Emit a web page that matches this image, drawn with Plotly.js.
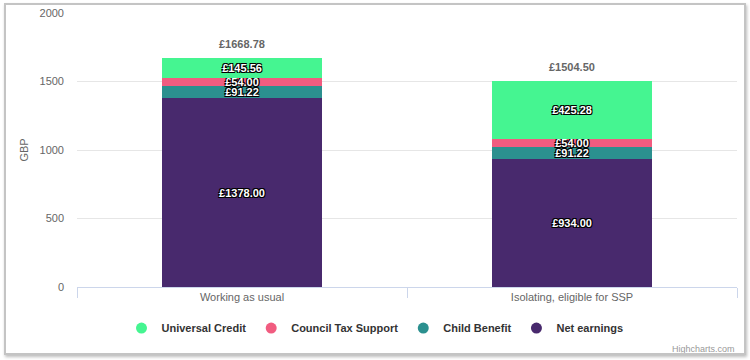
<!DOCTYPE html>
<html>
<head>
<meta charset="utf-8">
<script src="https://cdn.plot.ly/plotly-3.0.1.min.js"></script>
<style>
  html, body { margin: 0; padding: 0; background: #ffffff; }
  #chart { position: absolute; left: 0; top: 0; width: 750px; height: 360px; }
  #frame { position: absolute; left: 4px; top: 3px; width: 738px; height: 348px;
           border: 2px solid #c4c4c4; box-shadow: 1px 2px 3px #bdbdbd; pointer-events: none; }
</style>
</head>
<body>
<div id="chart"></div>
<div id="frame"></div>
<script>
const categories = ["Working as usual", "Isolating, eligible for SSP"];
const netEarnings = [1378.00, 934.00];
const childBenefit = [91.22, 91.22];
const councilTax = [54.00, 54.00];
const universalCredit = [145.56, 425.28];
const seriesNames = ["Net earnings", "Child Benefit", "Council Tax Support", "Universal Credit"];
const seriesValues = [netEarnings, childBenefit, councilTax, universalCredit];
const seriesColors = ["#48296d", "#2b908f", "#f15c80", "#45f591"];
const yTicks = [0, 500, 1000, 1500, 2000];

const FONT = "Liberation Sans, Arial, sans-serif";
const fmt = v => "£" + v.toFixed(2);

const traces = [];
seriesValues.forEach((vals, i) => {
  traces.push({
    type: "bar",
    name: seriesNames[i],
    x: categories,
    y: vals,
    text: vals.map(fmt),
    textposition: "inside",
    insidetextanchor: "middle",
    textangle: 0,
    constraintext: "none",
    cliponaxis: false,
    textfont: { family: FONT, size: 11, color: "#ffffff", weight: "bold",
      shadow: "-1px -1px 0 #000, 1px -1px 0 #000, -1px 1px 0 #000, 1px 1px 0 #000" },
    marker: { color: seriesColors[i], line: { width: 0 } },
    showlegend: false,
    hoverinfo: "skip"
  });
});
// legend entries with circle symbols
seriesValues.forEach((vals, i) => {
  traces.push({
    type: "scatter",
    mode: "markers",
    name: seriesNames[i],
    x: [null],
    y: [null],
    marker: { color: seriesColors[i], size: 11, symbol: "circle" },
    showlegend: true,
    hoverinfo: "skip"
  });
});

const totals = categories.map((c, k) => seriesValues.reduce((s, arr) => s + arr[k], 0));
const annotations = categories.map((c, k) => ({
  x: c, y: totals[k], xref: "x", yref: "y",
  text: fmt(totals[k]), showarrow: false, yanchor: "bottom", yshift: 6,
  font: { family: FONT, size: 11, color: "#666666", weight: "bold" }
}));
annotations.push({
  xref: "paper", yref: "paper", x: 1.0, y: -0.225, xanchor: "right", yanchor: "middle",
  text: "Highcharts.com", showarrow: false,
  font: { family: FONT, size: 9, color: "#999999" }
});

const layout = {
  width: 750, height: 360,
  margin: { l: 77, r: 13, t: 13, b: 73 },
  paper_bgcolor: "rgba(0,0,0,0)",
  plot_bgcolor: "#ffffff",
  barmode: "stack",
  bargap: 0.515,
  font: { family: FONT, size: 11, color: "#666666" },
  xaxis: {
    type: "category",
    showline: true, linecolor: "#ccd6eb", linewidth: 1,
    ticks: "outside", tickson: "boundaries", ticklen: 10, tickcolor: "#ccd6eb",
    tickfont: { family: FONT, size: 11, color: "#666666" },
    showgrid: false, zeroline: false, fixedrange: true
  },
  yaxis: {
    range: [0, 2000],
    tickvals: yTicks,
    ticktext: yTicks.map(String),
    showgrid: true, gridcolor: "#e6e6e6", gridwidth: 1,
    zeroline: false, showline: false,
    ticks: "", ticklabelstandoff: 12,
    tickfont: { family: FONT, size: 11, color: "#666666" },
    title: { text: "GBP", standoff: 8, font: { family: FONT, size: 11, color: "#666666" } },
    fixedrange: true
  },
  legend: {
    orientation: "h", x: 0.4515, xanchor: "center", y: -0.15, yanchor: "middle",
    traceorder: "reversed",
    itemwidth: 30,
    font: { family: FONT, size: 11, color: "#333333", weight: "bold" },
    itemclick: false, itemdoubleclick: false
  },
  annotations: annotations
};

Plotly.newPlot("chart", traces, layout, { displayModeBar: false, staticPlot: true });
</script>
</body>
</html>
